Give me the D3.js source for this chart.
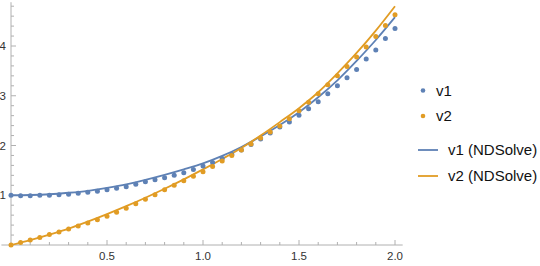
<!DOCTYPE html>
<html>
<head>
<meta charset="utf-8">
<script src="https://cdn.jsdelivr.net/npm/d3@7"></script>
<style>
  body { margin: 0; background: #fff; }
  svg { display: block; font-family: "Liberation Sans", Arial, sans-serif; }
</style>
</head>
<body>
<svg width="540" height="266"></svg>
<script>
// sample points (step 0.05)
const xDots = d3.range(41).map(i => i / 20);
const v1Dots = [1.00, 0.99, 0.99, 1.00, 1.00, 1.01, 1.02, 1.04, 1.06, 1.08,
                1.11, 1.14, 1.17, 1.22, 1.27, 1.31, 1.35, 1.40, 1.45, 1.52,
                1.59, 1.66, 1.74, 1.82, 1.91, 2.02, 2.13, 2.25, 2.37, 2.47,
                2.61, 2.74, 2.88, 3.04, 3.20, 3.36, 3.53, 3.74, 3.92, 4.15, 4.35];
const v2Dots = [0.00, 0.05, 0.10, 0.15, 0.21, 0.26, 0.32, 0.38, 0.44, 0.51,
                0.58, 0.66, 0.74, 0.83, 0.92, 1.01, 1.11, 1.20, 1.29, 1.38,
                1.47, 1.58, 1.69, 1.80, 1.91, 2.03, 2.15, 2.27, 2.39, 2.54,
                2.70, 2.87, 3.04, 3.22, 3.40, 3.59, 3.78, 3.98, 4.19, 4.41, 4.63];

// NDSolve curves (step 0.1)
const xLine = d3.range(21).map(i => i / 10);
const v1Line = [1.00, 1.005, 1.02, 1.05, 1.09, 1.15, 1.22, 1.31, 1.41, 1.52, 1.64,
                1.79, 1.97, 2.18, 2.41, 2.67, 2.97, 3.31, 3.70, 4.12, 4.58];
const v2Line = [0.00, 0.10, 0.21, 0.33, 0.47, 0.62, 0.78, 0.95, 1.13, 1.32, 1.52,
                1.73, 1.95, 2.20, 2.47, 2.75, 3.07, 3.45, 3.86, 4.31, 4.80];

const xTicks = [0.5, 1.0, 1.5, 2.0];
const yTicks = [1, 2, 3, 4];
const legendLabels = ["v1", "v2", "v1 (NDSolve)", "v2 (NDSolve)"];

const blue = "#5E81B5";
const gold = "#E19C24";

const svg = d3.select("svg");
const x = d3.scaleLinear().domain([0, 2]).range([11, 395]);
const y = d3.scaleLinear().domain([0, 4]).range([245, 46]);

// axes
const axisColor = "#b0b0b0";
const g = svg.append("g");
g.append("line")
    .attr("x1", x(-0.05)).attr("x2", x(2.04))
    .attr("y1", y(0)).attr("y2", y(0))
    .attr("stroke", axisColor).attr("stroke-width", 1);
g.append("line")
    .attr("x1", x(0)).attr("x2", x(0))
    .attr("y1", y(-0.03)).attr("y2", y(4.88))
    .attr("stroke", axisColor).attr("stroke-width", 1);

// x ticks: minor every 0.1, major every 0.5
d3.range(1, 21).forEach(i => {
    const v = i / 10;
    const major = i % 5 === 0;
    g.append("line")
        .attr("x1", x(v)).attr("x2", x(v))
        .attr("y1", y(0)).attr("y2", y(0) - (major ? 5 : 3))
        .attr("stroke", axisColor);
});
// y ticks: minor every 0.2, major every 1
d3.range(1, 25).forEach(i => {
    const v = i / 5;
    const major = i % 5 === 0;
    g.append("line")
        .attr("x1", x(0)).attr("x2", x(0) + (major ? 5 : 3))
        .attr("y1", y(v)).attr("y2", y(v))
        .attr("stroke", axisColor);
});

g.selectAll(".xl").data(xTicks).enter().append("text")
    .attr("x", d => x(d)).attr("y", 260)
    .attr("text-anchor", "middle")
    .attr("font-size", 11.5).attr("fill", "#333")
    .text(d => d.toFixed(1));
g.selectAll(".yl").data(yTicks).enter().append("text")
    .attr("x", 6).attr("y", d => y(d) + 4)
    .attr("text-anchor", "end")
    .attr("font-size", 11.5).attr("fill", "#333")
    .text(d => d);

// curves
const line = d3.line()
    .x((d, i) => x(xLine[i]))
    .y(d => y(d))
    .curve(d3.curveMonotoneX);

svg.append("path").datum(v1Line)
    .attr("d", line).attr("fill", "none")
    .attr("stroke", blue).attr("stroke-width", 1.8);
svg.append("path").datum(v2Line)
    .attr("d", line).attr("fill", "none")
    .attr("stroke", gold).attr("stroke-width", 1.8);

// dots
svg.append("g").selectAll("circle").data(v1Dots).enter().append("circle")
    .attr("cx", (d, i) => x(xDots[i])).attr("cy", d => y(d))
    .attr("r", 2.5).attr("fill", blue);
svg.append("g").selectAll("circle").data(v2Dots).enter().append("circle")
    .attr("cx", (d, i) => x(xDots[i])).attr("cy", d => y(d))
    .attr("r", 2.5).attr("fill", gold);

// legend
const legend = svg.append("g");
const legendY = [90.5, 116, 150, 176];
const legendColors = [blue, gold, blue, gold];
legendLabels.forEach((label, i) => {
    if (i < 2) {
        legend.append("circle")
            .attr("cx", 423).attr("cy", legendY[i])
            .attr("r", 2.3).attr("fill", legendColors[i]);
        legend.append("text")
            .attr("x", 436).attr("y", legendY[i] + 5)
            .attr("font-size", 15).attr("fill", "#111")
            .text(label);
    } else {
        legend.append("line")
            .attr("x1", 418).attr("x2", 438)
            .attr("y1", legendY[i]).attr("y2", legendY[i])
            .attr("stroke", legendColors[i]).attr("stroke-width", 1.8);
        legend.append("text")
            .attr("x", 448).attr("y", legendY[i] + 5)
            .attr("font-size", 15).attr("fill", "#111")
            .text(label);
    }
});
</script>
</body>
</html>
